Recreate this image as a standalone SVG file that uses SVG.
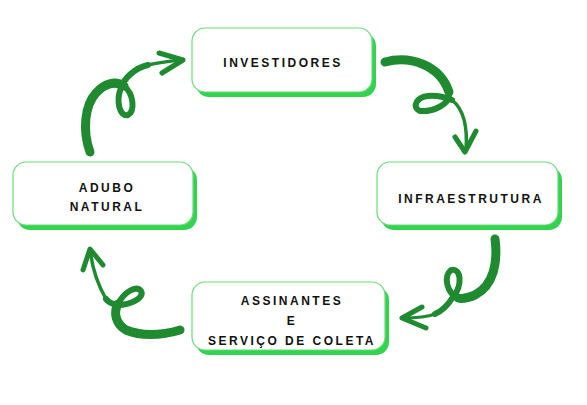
<svg xmlns="http://www.w3.org/2000/svg" width="587" height="405" viewBox="0 0 587 405">
<style>
.sh{fill:#33d34f}
.bx{fill:#ffffff;stroke:#6fd87c;stroke-width:1.2}
.t{font-family:"Liberation Sans",Arial,sans-serif;font-weight:bold;font-size:12px;letter-spacing:2.5px;fill:#111111;text-anchor:middle}
.a{fill:none;stroke:#1f8a2f;stroke-linecap:round;stroke-linejoin:round}
</style>
<rect width="587" height="405" fill="#ffffff"/>
<g id="connectors">
  <g id="arrow-investidores-infra">
    <path class="a" stroke-width="9" d="M385,62 C410,55 440,65 449,92"/>
    <path class="a" stroke-width="6" d="M449,92 C451,105 432,112 420,111 C411,107 417,97 428,96 C438,95 447,98 452,100"/>
    <path class="a" stroke-width="3.5" d="M452,100 C462,108 468,124 466,150"/>
    <path class="a" stroke-width="5" d="M455,137 L465,152 L476,131"/>
  </g>
  <g id="arrow-infra-assinantes">
    <path class="a" stroke-width="9" d="M495,239 C498,262 494,285 475,295 C468,298 462,299 458,298"/>
    <path class="a" stroke-width="6" d="M458,298 C447,293 443,277 451,270 C461,267 463,285 453,297 C448,305 442,311 435,314"/>
    <path class="a" stroke-width="3.5" d="M435,314 C425,318 413,318 402,318"/>
    <path class="a" stroke-width="5" d="M422,307 L402,318 L426,328"/>
  </g>
  <g id="arrow-assinantes-adubo">
    <path class="a" stroke-width="9" d="M180,330 C160,336 140,336 126,330 C116,324 113,313 118,304"/>
    <path class="a" stroke-width="6" d="M118,304 C124,292 136,285 141,291 C145,298 130,305 118,305 C112,304 108,302 106,299"/>
    <path class="a" stroke-width="3.5" d="M106,299 C98,285 92,268 90,249"/>
    <path class="a" stroke-width="5" d="M83,270 L90,249 L103,265"/>
  </g>
  <g id="arrow-adubo-investidores">
    <path class="a" stroke-width="9" d="M90,152 C82,130 85,105 96,93 C104,84 115,80 124,86"/>
    <path class="a" stroke-width="6" d="M124,86 C134,94 135,111 128,115 C119,117 116,100 121,88 C124,78 135,68 148,65"/>
    <path class="a" stroke-width="3.5" d="M148,65 C160,62 172,61 183,60"/>
    <path class="a" stroke-width="5" d="M159,53 L183,60 L162,73"/>
  </g>
</g>
<g id="node-investidores">
  <rect class="sh" x="196" y="33" width="180" height="64" rx="13"/>
  <rect class="bx" x="192" y="28" width="180" height="64" rx="13"/>
  <text class="t" x="283" y="67">INVESTIDORES</text>
</g>
<g id="node-infraestrutura">
  <rect class="sh" x="381" y="167" width="181" height="63" rx="13"/>
  <rect class="bx" x="377" y="162" width="181" height="63" rx="13"/>
  <text class="t" x="471" y="202.5">INFRAESTRUTURA</text>
</g>
<g id="node-assinantes">
  <rect class="sh" x="196" y="287" width="193" height="68" rx="13"/>
  <rect class="bx" x="192" y="282" width="193" height="68" rx="13"/>
  <text class="t" x="292" y="305">ASSINANTES</text>
  <text class="t" x="292" y="325">E</text>
  <text class="t" x="292" y="345">SERVIÇO DE COLETA</text>
</g>
<g id="node-adubo">
  <rect class="sh" x="17" y="167" width="180" height="63" rx="13"/>
  <rect class="bx" x="13" y="162" width="180" height="63" rx="13"/>
  <text class="t" x="107" y="192">ADUBO</text>
  <text class="t" x="107" y="211">NATURAL</text>
</g>
</svg>
